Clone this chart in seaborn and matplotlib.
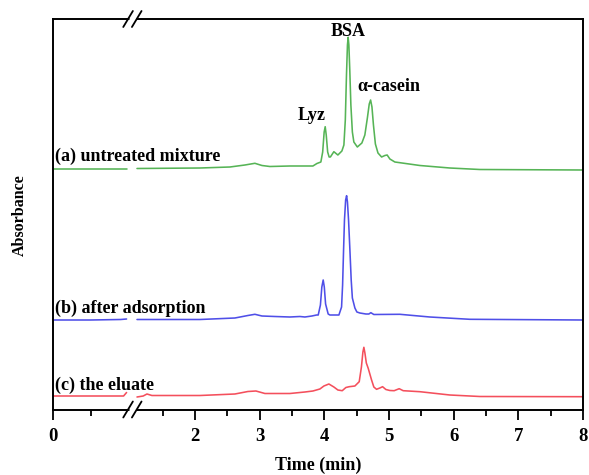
import numpy as np
import pandas as pd
import matplotlib
matplotlib.use("Agg")
import matplotlib.pyplot as plt
import seaborn as sns

# ---------------- data (time in min, absorbance in arbitrary units above own baseline) -------------
a_left_t = [0.0, 0.5, 0.98]
a_left_h = [1.5, 1.5, 1.5]
a_right_t = [1.104, 2.077, 2.541, 2.773, 2.927, 3.036, 3.159, 3.468, 3.824, 3.886, 3.947, 3.975,
             3.998, 4.014, 4.030, 4.052, 4.075, 4.094, 4.148, 4.210, 4.272, 4.303, 4.325, 4.343,
             4.358, 4.369, 4.380, 4.394, 4.411, 4.434, 4.457, 4.511, 4.581, 4.627, 4.666, 4.695,
             4.716, 4.737, 4.760, 4.790, 4.830, 4.886, 4.937, 4.972, 5.014, 5.091, 5.478, 5.941,
             6.405, 8.0]
a_right_h = [1.5, 2.0, 3.0, 5.0, 6.7, 4.5, 3.5, 4.0, 4.0, 6.5, 8.0, 18.0,
             38.0, 43.3, 35.0, 18.0, 13.0, 13.0, 18.3, 15.0, 19.0, 25.0, 50.0, 95.0,
             125.0, 132.7, 125.0, 100.0, 65.0, 38.0, 28.0, 23.0, 27.0, 35.0, 52.0, 66.0,
             70.0, 63.0, 45.0, 26.0, 17.0, 13.0, 14.5, 15.0, 11.0, 8.0, 4.5, 2.0,
             0.5, 0.0]

b_left_t = [0.0, 0.5, 0.9, 0.98]
b_left_h = [0.0, 0.0, 0.5, 1.0]
b_right_t = [1.104, 2.077, 2.618, 2.819, 2.927, 3.036, 3.236, 3.468, 3.623, 3.700, 3.808, 3.881,
             3.906, 3.940, 3.962, 3.983, 4.000, 4.020, 4.060, 4.087, 4.226, 4.267, 4.283, 4.298,
             4.312, 4.330, 4.345, 4.358, 4.375, 4.396, 4.416, 4.434, 4.473, 4.504, 4.550, 4.643,
             4.689, 4.720, 4.766, 5.168, 5.632, 6.250, 8.0]
b_right_h = [0.5, 0.5, 2.0, 4.5, 5.7, 4.0, 3.5, 3.0, 3.5, 3.0, 4.0, 5.0,
             5.0, 15.0, 33.0, 40.0, 33.0, 16.0, 6.0, 5.0, 5.0, 13.0, 35.0, 70.0,
             100.0, 120.0, 124.3, 118.0, 100.0, 70.0, 40.0, 22.0, 12.0, 8.0, 7.0, 6.0,
             6.0, 7.3, 5.5, 5.7, 3.0, 0.7, 0.0]

c_left_t = [0.0, 0.5, 0.94, 0.98]
c_left_h = [1.0, 1.0, 1.0, 4.5]
c_right_t = [1.104, 1.2, 1.258, 1.335, 1.459, 2.077, 2.618, 2.819, 2.943, 3.082, 3.468, 3.623,
             3.700, 3.824, 3.932, 3.994, 4.071, 4.148, 4.210, 4.277, 4.334, 4.385, 4.473, 4.540,
             4.574, 4.597, 4.612, 4.628, 4.650, 4.679, 4.731, 4.766, 4.808, 4.859, 4.901, 4.952,
             5.014, 5.080, 5.158, 5.220, 5.478, 5.941, 6.405, 8.0]
c_right_h = [0.0, 1.0, 3.0, 1.5, 1.5, 1.5, 3.0, 5.5, 6.0, 3.5, 3.5, 4.5,
             5.0, 6.0, 8.0, 11.0, 13.0, 10.0, 7.0, 6.3, 9.5, 10.3, 11.0, 15.3,
             30.0, 45.0, 49.7, 44.0, 34.0, 28.7, 17.0, 10.0, 7.7, 9.0, 10.3, 7.5,
             6.5, 6.3, 8.3, 6.3, 5.3, 2.0, 0.5, 0.3]

sample_labels = ["(a) untreated mixture", "(b) after adsorption", "(c) the eluate"]
peak_labels = ["Lyz", "BSA", "α-casein"]
peak_times = [3.81, 4.365, 5.0]
major_ticks = [0, 2, 3, 4, 5, 6, 7, 8]
minor_ticks = [0.5, 1.5, 2.5, 3.5, 4.5, 5.5, 6.5, 7.5]

# ---------------- layout / style -------------
offsets = {"a": 239.5, "b": 89.5, "c": 12.5}
colors = {"a": "#56b456", "b": "#4f4fe8", "c": "#f44f5c"}

rows = []
for key, segs in {"a": [(a_left_t, a_left_h), (a_right_t, a_right_h)],
                  "b": [(b_left_t, b_left_h), (b_right_t, b_right_h)],
                  "c": [(c_left_t, c_left_h), (c_right_t, c_right_h)]}.items():
    for i, (ts, hs) in enumerate(segs):
        for t, h in zip(ts, hs):
            rows.append({"time": t, "abs": h + offsets[key], "sample": key, "seg": f"{key}{i}"})
df = pd.DataFrame(rows)

# broken x axis: compressed piecewise scale
L_SCALE = 1.156
def fwd(t):
    t = np.asarray(t, dtype=float)
    return np.where(t <= 1.0, t * L_SCALE,
                    np.where(t >= 1.1, t + 0.19, L_SCALE + (t - 1.0) * (1.29 - L_SCALE) / 0.1))

def inv(u):
    u = np.asarray(u, dtype=float)
    return np.where(u <= L_SCALE, u / L_SCALE,
                    np.where(u >= 1.29, u - 0.19, 1.0 + (u - L_SCALE) * 0.1 / (1.29 - L_SCALE)))

sns.set_style("ticks")
plt.rcParams["font.family"] = ["Liberation Serif", "DejaVu Serif"]
plt.rcParams["font.weight"] = "bold"
plt.rcParams["text.color"] = "black"
plt.rcParams["axes.labelcolor"] = "black"
plt.rcParams["xtick.color"] = "black"
plt.rcParams["ytick.color"] = "black"

W, H = 589, 475
fig = plt.figure(figsize=(W / 100, H / 100), dpi=100)
ax_l, ax_r, ax_t, ax_b = 53.3, 583.0, 19.0, 409.5
ax = fig.add_axes([ax_l / W, 1 - ax_b / H, (ax_r - ax_l) / W, (ax_b - ax_t) / H])
ax.set_xscale("function", functions=(fwd, inv))

sns.lineplot(data=df, x="time", y="abs", hue="sample", units="seg", estimator=None,
             sort=False, palette=colors, legend=False, linewidth=1.15, ax=ax)

ax.set_xlim(0, 8)
ax.set_ylim(0, ax_b - ax_t)
ax.set_yticks([])
ax.set_xticks(major_ticks)
ax.set_xticklabels([str(v) for v in major_ticks], fontsize=13.5, fontweight="bold", color="black")
ax.set_xticks(minor_ticks, minor=True)
ax.tick_params(axis="x", which="major", direction="out", length=7, width=1.3, pad=6, color="black")
ax.tick_params(axis="x", which="minor", direction="out", length=4, width=1.3, color="black")
for s in ax.spines.values():
    s.set_linewidth(1.4)
    s.set_color("black")
ax.set_xlabel("")
ax.set_ylabel("")

# axis break marks
umax = float(fwd(8.0))
for tb in (1.0, 1.1):
    fx = float(fwd(tb)) / umax
    dx = 4.8 / (ax_r - ax_l)
    dy = 8.0 / (ax_b - ax_t)
    for fy in (0.0, 1.0):
        ax.plot([fx - dx, fx + dx], [fy - dy, fy + dy], transform=ax.transAxes,
                color="black", lw=1.3, clip_on=False, zorder=5)
x0 = float(fwd(1.0)) / umax
x1 = float(fwd(1.1)) / umax
for fy in (0.0, 1.0):
    ax.plot([x0 + 0.002, x1 - 0.002], [fy, fy], transform=ax.transAxes, color="white",
            lw=2.5, clip_on=False, zorder=4, solid_capstyle="butt")

# texts
text_y = [409.5 - 156, 409.5 - 308, 409.5 - 385]
for lab, yv in zip(sample_labels, text_y):
    ax.text(0.02, yv, lab, fontsize=13, fontweight="bold", ha="left", va="center", color="black")
peak_y = [409.5 - 115, 409.5 - 31.7, 409.5 - 86.7]
for lab, tx, yv in zip(peak_labels, peak_times, peak_y):
    ax.text(tx, yv, lab, fontsize=13, fontweight="bold", ha="center", va="center", color="black")

fig.text(20 / W, 1 - 215 / H, "Absorbance", rotation=90, fontsize=11.5, fontweight="bold",
         ha="center", va="center", color="black")
fig.text(318 / W, 1 - 465 / H, "Time (min)", fontsize=13, fontweight="bold",
         ha="center", va="center", color="black")

fig.savefig("out.png", dpi=100)
